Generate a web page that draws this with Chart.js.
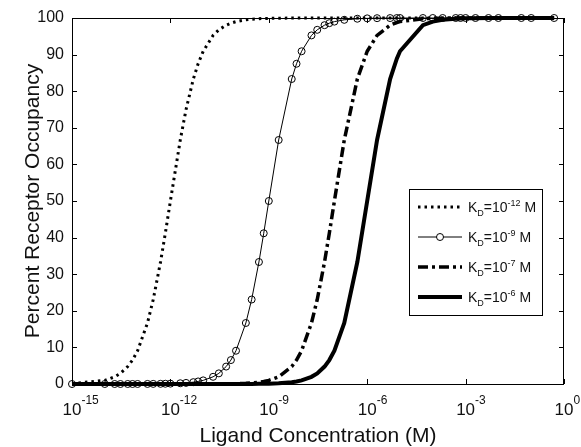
<!DOCTYPE html>
<html>
<head>
<meta charset="utf-8">
<script src="https://cdn.jsdelivr.net/npm/chart.js@4"></script>
<style>
  html, body { margin: 0; padding: 0; background: #fff; }
  #chart { display: block; }
</style>
</head>
<body>
<canvas id="chart" width="581" height="447"></canvas>
<script>
// ligand concentrations (M), shared by all four curves
const conc = [
  1e-15, 1e-14, 2e-14, 3e-14, 5e-14, 7e-14, 1e-13, 2e-13, 3e-13, 5e-13, 7e-13,
  1e-12, 2e-12, 3e-12, 5e-12, 7e-12, 1e-11, 2e-11, 3e-11, 5e-11, 7e-11,
  1e-10, 2e-10, 3e-10, 5e-10, 7e-10, 1e-9, 2e-9, 5e-9, 7e-9,
  1e-8, 2e-8, 3e-8, 5e-8, 7e-8, 1e-7, 2e-7, 5e-7,
  1e-6, 2e-6, 5e-6, 8e-6, 1e-5, 5e-5, 1e-4, 2e-4, 5e-4, 7e-4,
  1e-3, 2e-3, 5e-3, 1e-2, 5e-2, 1e-1, 5e-1
];

// percent occupancy for each KD
const occKd12 = [
  0.1, 0.99, 1.96, 2.91, 4.76, 6.54, 9.09, 16.67, 23.08, 33.33, 41.18,
  50, 66.67, 75, 83.33, 87.5, 90.91, 95.24, 96.77, 98.04, 98.59,
  99.01, 99.5, 99.67, 99.8, 99.86, 99.9, 99.95, 99.98, 99.99,
  100, 100, 100, 100, 100, 100, 100, 100,
  100, 100, 100, 100, 100, 100, 100, 100, 100, 100,
  100, 100, 100, 100, 100, 100, 100
];
const occKd9 = [
  0, 0.001, 0.002, 0.003, 0.005, 0.007, 0.01, 0.02, 0.03, 0.05, 0.07,
  0.1, 0.2, 0.3, 0.5, 0.7, 0.99, 1.96, 2.91, 4.76, 6.54,
  9.09, 16.67, 23.08, 33.33, 41.18, 50, 66.67, 83.33, 87.5,
  90.91, 95.24, 96.77, 98.04, 98.59, 99.01, 99.5, 99.8,
  99.9, 99.95, 99.98, 99.99, 99.99, 100, 100, 100, 100, 100,
  100, 100, 100, 100, 100, 100, 100
];
const occKd7 = [
  0, 0, 0, 0, 0, 0, 0, 0, 0, 0, 0,
  0.001, 0.002, 0.003, 0.005, 0.007, 0.01, 0.02, 0.03, 0.05, 0.07,
  0.1, 0.2, 0.3, 0.5, 0.7, 0.99, 1.96, 4.76, 6.54,
  9.09, 16.67, 23.08, 33.33, 41.18, 50, 66.67, 83.33,
  90.91, 95.24, 98.04, 98.77, 99.01, 99.8, 99.9, 99.95, 99.98, 99.99,
  99.99, 100, 100, 100, 100, 100, 100
];
const occKd6 = [
  0, 0, 0, 0, 0, 0, 0, 0, 0, 0, 0,
  0, 0, 0, 0, 0, 0.001, 0.002, 0.003, 0.005, 0.007,
  0.01, 0.02, 0.03, 0.05, 0.07, 0.1, 0.2, 0.5, 0.7,
  0.99, 1.96, 2.91, 4.76, 6.54, 9.09, 16.67, 33.33,
  50, 66.67, 83.33, 88.89, 90.91, 98.04, 99.01, 99.5, 99.8, 99.86,
  99.9, 99.95, 99.98, 99.99, 100, 100, 100
];

const xTicks = [1e-15, 1e-12, 1e-9, 1e-6, 1e-3, 1];
const xTickExp = ['-15', '-12', '-9', '-6', '-3', '0'];
const legendExp = ['-12', '-9', '-7', '-6'];

const FONT = '"Liberation Sans", Arial, Helvetica, sans-serif';

function pts(ys) {
  return conc.map((c, i) => ({ x: c, y: ys[i] }));
}

const datasets = [
  {
    data: pts(occKd12), borderColor: '#000', borderWidth: 3,
    borderDash: [2.5, 4], pointRadius: 0, clip: false
  },
  {
    data: pts(occKd9), borderColor: '#000', borderWidth: 1,
    pointRadius: 3.5, pointBorderWidth: 1, pointBorderColor: '#000',
    pointBackgroundColor: 'rgba(255,255,255,0)', clip: false
  },
  {
    data: pts(occKd7), borderColor: '#000', borderWidth: 3.5,
    borderDash: [10, 4, 3, 4], pointRadius: 0, clip: false
  },
  {
    data: pts(occKd6), borderColor: '#000', borderWidth: 4,
    pointRadius: 0, clip: false
  }
];

// frame, inward ticks, x labels with exponents, legend box
const decorations = {
  id: 'decorations',
  afterDraw(chart) {
    const ctx = chart.ctx;
    const a = chart.chartArea;
    const xs = chart.scales.x;
    const ys = chart.scales.y;
    ctx.save();
    ctx.strokeStyle = '#000';
    ctx.lineWidth = 1;
    ctx.strokeRect(a.left + 0.5, a.top + 0.5, a.right - a.left - 1, a.bottom - a.top);

    ctx.beginPath();
    xTicks.forEach(v => {
      const px = Math.round(xs.getPixelForValue(v)) + 0.5;
      ctx.moveTo(px, a.bottom); ctx.lineTo(px, a.bottom - 5);
      ctx.moveTo(px, a.top); ctx.lineTo(px, a.top + 5);
    });
    for (let v = 10; v < 100; v += 10) {
      const py = Math.round(ys.getPixelForValue(v)) + 0.5;
      ctx.moveTo(a.left, py); ctx.lineTo(a.left + 5, py);
      ctx.moveTo(a.right, py); ctx.lineTo(a.right - 5, py);
    }
    ctx.stroke();

    // x tick labels: "10" plus raised exponent
    ctx.fillStyle = '#111';
    ctx.textBaseline = 'alphabetic';
    ctx.textAlign = 'left';
    xTicks.forEach((v, i) => {
      const px = xs.getPixelForValue(v);
      ctx.font = '17px ' + FONT;
      const w = ctx.measureText('10').width;
      ctx.fillText('10', px - w / 2, a.bottom + 31);
      ctx.font = '12px ' + FONT;
      ctx.fillText(xTickExp[i], px + w / 2, a.bottom + 20);
    });

    // legend
    const bx = 409.5, by = 189.5, bw = 133, bh = 126;
    ctx.fillStyle = '#fff';
    ctx.fillRect(bx, by, bw, bh);
    ctx.strokeRect(bx, by, bw, bh);
    const rowY = [207, 237, 267, 297];
    chart.data.datasets.forEach((ds, i) => {
      const y = rowY[i];
      ctx.save();
      ctx.strokeStyle = '#000';
      ctx.lineWidth = ds.borderWidth;
      ctx.setLineDash(ds.borderDash || []);
      ctx.beginPath();
      ctx.moveTo(418, y); ctx.lineTo(462, y);
      ctx.stroke();
      ctx.restore();
      if (ds.pointRadius > 0) {
        ctx.beginPath();
        ctx.arc(440, y, ds.pointRadius, 0, Math.PI * 2);
        ctx.fillStyle = '#fff';
        ctx.fill();
        ctx.stroke();
      }
      ctx.fillStyle = '#111';
      let tx = 468;
      const base = y + 5;
      ctx.font = '14px ' + FONT;
      ctx.fillText('K', tx, base); tx += ctx.measureText('K').width;
      ctx.font = '9px ' + FONT;
      ctx.fillText('D', tx, base + 4); tx += ctx.measureText('D').width;
      ctx.font = '14px ' + FONT;
      ctx.fillText('=10', tx, base); tx += ctx.measureText('=10').width;
      ctx.font = '9px ' + FONT;
      ctx.fillText(legendExp[i], tx, base - 6); tx += ctx.measureText(legendExp[i]).width;
      ctx.font = '14px ' + FONT;
      ctx.fillText(' M', tx, base);
    });
    ctx.restore();
  }
};

const chart = new Chart(document.getElementById('chart').getContext('2d'), {
  type: 'line',
  data: { datasets: datasets },
  options: {
    responsive: false,
    animation: false,
    layout: { padding: { left: 0, top: 18, right: 17, bottom: 0 } },
    plugins: { legend: { display: false }, tooltip: { enabled: false } },
    scales: {
      x: {
        type: 'logarithmic',
        min: 1e-15,
        max: 1,
        afterBuildTicks: s => { s.ticks = xTicks.map(v => ({ value: v })); },
        afterFit: s => { s.height = 63; },
        grid: { display: false, drawTicks: false },
        border: { display: false },
        ticks: { display: false },
        title: {
          display: true,
          text: 'Ligand Concentration (M)',
          color: '#111',
          font: { family: FONT, size: 21, lineHeight: 1 },
          padding: 0
        }
      },
      y: {
        min: 0,
        max: 100,
        afterFit: s => { s.width = 72; },
        grid: { display: false, drawTicks: false },
        border: { display: false },
        ticks: {
          stepSize: 10,
          padding: 8,
          color: '#111',
          font: { family: FONT, size: 16 }
        },
        title: {
          display: true,
          text: 'Percent Receptor Occupancy',
          color: '#111',
          font: { family: FONT, size: 21, lineHeight: 1 },
          padding: { top: 23, bottom: 0 }
        }
      }
    }
  },
  plugins: [decorations]
});
</script>
</body>
</html>
